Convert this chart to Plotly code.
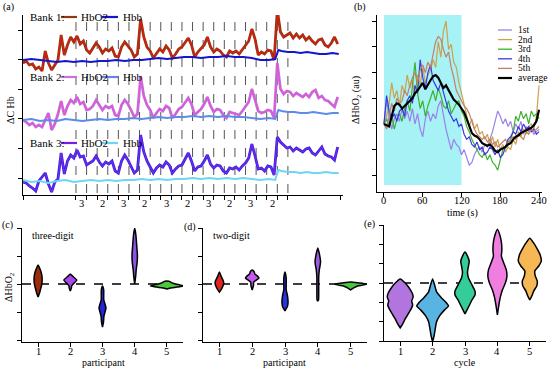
import plotly.graph_objects as go

W, H = 550, 369
FONT = "Liberation Serif, Times New Roman, serif"

# ---------------- Panel (a) data ----------------
T_A = list(range(0, 300, 3))  # sampling times (a.u.), 100 samples
BANK1_HBO2 = [-4, -2, -6, -5, -10, -8, -12, 8, -4, -11, -6, -1, 24, 4, 14, 22, 17, 23, 15, 18,
              9, 6, 11, 16, 12, 6, 10, 8, 11, 3, 2, 12, 17, 13, 9, 2, 5, 40, 22, 12,
              8, 1, 6, 10, 7, 13, 9, 1, 5, 10, 12, 16, 21, 14, 2, 7, 10, 14, 22, 12,
              7, 10, 8, 4, 2, 8, 6, 8, 5, 9, 13, 18, 30, 20, 4, 7, 5, 9, 8, -1,
              49, 27, 22, 24, 26, 21, 25, 21, 24, 19, 22, 18, 15, 19, 20, 14, 12, 16, 22, 15]
BANK2_HBO2 = [-2, -4, -7, -5, -9, -7, -9, -1, 5, -12, -6, 4, 17, 3, 12, 18, 15, 21, 14, 16,
              8, 9, 12, 18, 13, 8, 12, 10, 12, 3, 2, 13, 18, 14, 8, 1, 4, 42, 22, 13,
              8, 0, 5, 9, 7, 12, 10, 0, 4, 9, 11, 15, 20, 14, 3, 6, 9, 14, 21, 12,
              6, 9, 8, 3, 0, 6, 5, 4, 3, 7, 12, 16, 29, 18, 7, 5, 6, 8, 7, 0,
              55, 29, 24, 27, 26, 22, 25, 23, 21, 24, 21, 26, 28, 20, 22, 18, 17, 14, 11, 21]
BANK3_HBO2 = [-4, -5, -8, -10, -13, -3, 1, 5, -6, -14, -4, -1, 25, 4, 17, 23, 20, 28, 21, 22,
              13, 15, 17, 22, 16, 12, 16, 14, 17, 7, 5, 17, 23, 18, 12, 5, 8, 43, 26, 17,
              11, 5, 10, 13, 11, 16, 13, 5, 9, 12, 13, 19, 25, 17, 7, 11, 12, 17, 23, 14,
              10, 13, 12, 7, 5, 10, 9, 11, 8, 12, 15, 20, 34, 22, 9, 10, 7, 12, 11, 3,
              41, 36, 33, 30, 31, 27, 30, 28, 26, 29, 30, 25, 23, 27, 31, 24, 22, 21, 18, 31]

T_HBB = [0, 8, 16, 24, 32, 40, 48, 56, 64, 72, 80, 88, 96, 104, 112, 120, 128, 136, 144, 152,
         160, 168, 176, 184, 192, 200, 208, 216, 224, 232, 238, 241, 244, 250, 256, 262, 268,
         274, 280, 286, 292, 298]
BANK1_HBB = [-1, 0, -1, -2, -3, -2, -3, -2, -3, -2, -2, -1, -2, -1, -1, 0, 1, 0, 1, 2,
             2, 1, 2, 2, 3, 2, 2, 1, -1, -1, 0, 9, 8, 7, 7, 6, 7, 6, 5, 5, 6, 5]
BANK2_HBB = [-2, -1, -3, -2, -3, -1, -2, -3, -2, -1, -2, -1, -1, 0, -1, 0, 1, 0, 1, 1,
             2, 1, 2, 1, 2, 1, 1, 0, -1, 0, -1, 8, 7, 6, 6, 5, 5, 6, 5, 4, 5, 5]
BANK3_HBB = [-2, -4, -3, -5, -3, -2, -4, -3, -2, -3, -2, -3, -2, -2, -1, -2, -1, -2, -1, -1,
             0, -1, 0, -1, 0, -1, 0, -1, -2, -1, -2, 8, 7, 6, 6, 5, 6, 5, 5, 6, 5, 5]
BANK_OFFSETS = [119, 60, 0]
A_TICKS = [0, 50, 60, 70, 80, 90, 100, 110, 120, 130, 140, 150, 160, 170, 180, 190, 200,
           210, 220, 230, 240, 250, 300]
TASK_LINES = [50, 60, 70, 80, 90, 100, 110, 120, 130, 140, 150, 160, 170, 180, 190, 200,
              210, 220, 230, 240, 250]
TASK_LABEL_POS = [55, 75, 95, 115, 135, 155, 175, 195, 215, 235]
TASK_LABELS = ["3", "2", "3", "2", "3", "2", "3", "2", "3", "2"]

# ---------------- Panel (b) data ----------------
T_B = list(range(0, 244, 4))  # time (s)
CYC1 = [0.0, 0.9, 0.3, -0.2, 0.2, 0.4, 0.1, 0.6, 0.2, 0.5, 0.1, 0.6, 0.0, 0.4, -0.2, -0.5,
        0.2, 0.5, 0.1, 0.4, 0.2, 0.7, 0.9, 0.3, -0.2, -0.6, -1.0, -0.6, -0.8, -0.9, -1.2,
        -1.0, -1.3, -1.6, -1.5, -1.2, -1.0, -0.9, -1.1, -0.8, -0.9, -0.6, -0.3, 0.1, 0.5,
        0.3, 0.0, 0.2, -0.1, 0.1, -0.3, 0.0, -0.2, 0.1, -0.4, -0.1, -0.3, -0.2, -0.4, -0.3, -0.2]
CYC2 = [0.0, 0.3, 0.8, 1.6, 1.0, 1.3, 0.7, 1.5, 1.2, 1.9, 1.4, 1.7, 1.1, 1.9, 1.5, 2.2,
        1.6, 1.9, 2.1, 2.5, 2.2, 3.2, 2.6, 3.6, 4.0, 2.9, 3.1, 2.4, 2.2, 1.6, 1.2,
        0.8, 0.4, -0.1, 0.2, -0.2, 0.0, -0.4, -0.3, -0.6, -0.4, -0.8, -0.5, -0.9, -0.6,
        -1.0, -0.8, -1.1, -0.9, -1.0, -0.6, -0.8, -0.3, -0.5, -0.2, -0.4, -0.1, 0.0, -0.2, 0.3, 1.5]
CYC3 = [0.0, 0.2, -0.1, 0.3, -0.2, 0.2, 0.4, 0.1, 0.6, 0.9, 0.5, 1.6, 2.4, 1.2, 0.6, 0.9,
        0.3, 0.7, 1.0, 1.3, 0.9, 1.4, 1.1, 0.7, 0.6, 0.9, 0.4, 0.6, 0.8, 0.9, 0.5,
        0.3, -0.1, -0.3, -0.6, -0.8, -1.0, -1.2, -1.3, -1.1, -1.4, -1.2, -1.5, -1.6, -1.8,
        -1.4, -1.0, -0.9, -0.7, -0.6, -0.3, 0.3, 0.1, 0.5, 0.2, 0.4, 0.0, 0.5, 0.3, 0.4, 0.2]
CYC4 = [0.0, 1.1, 0.5, 0.2, 0.4, 0.1, 0.5, 0.6, 0.3, 0.9, 1.1, 0.8, 1.5, 1.2, 2.5, 1.8,
        1.4, 2.0, 2.3, 1.7, 1.5, 1.3, 1.6, 1.2, 0.8, 0.5, 0.3, 0.1, 0.2, -0.1, 0.0,
        -0.4, -0.6, -0.5, -0.8, -0.9, -0.7, -1.0, -0.9, -1.2, -1.1, -0.9, -1.0, -1.2, -1.0,
        -1.3, -1.2, -0.9, -0.6, -0.5, -0.3, -0.4, -0.1, -0.3, 0.0, -0.2, -0.1, -0.3, -0.2, -0.4, -0.3]
CYC5 = [0.0, -0.2, 0.3, 0.8, 0.5, 1.0, 0.8, 0.9, 1.3, 1.1, 1.5, 1.8, 2.0, 1.6, 2.1, 2.3,
        2.0, 2.4, 2.2, 2.7, 3.2, 3.4, 3.3, 2.9, 2.6, 2.8, 2.2, 1.8, 1.3, 1.1, 0.9,
        0.7, 0.6, 0.4, 0.1, -0.2, -0.4, -0.5, -0.6, -0.5, -0.7, -0.6, -0.8, -0.7, -0.9,
        -0.8, -0.7, -0.6, -0.8, -0.6, -0.5, -0.6, -0.4, -0.5, -0.6, -0.3, -0.4, -0.2, -0.3, -0.2, -0.1]
AVG = [0.0, -0.05, -0.1, 0.3, 0.7, 0.8, 0.75, 0.6, 0.7, 0.8, 0.9, 1.0, 1.2, 1.3, 1.45, 1.6,
       1.35, 1.55, 1.7, 1.85, 1.9, 1.8, 1.6, 1.4, 1.5, 1.3, 1.1, 0.95, 0.85, 0.75, 0.6,
       0.45, 0.2, -0.1, -0.35, -0.45, -0.5, -0.6, -0.75, -0.8, -0.85, -0.8, -0.9, -1.05, -1.1,
       -1.0, -0.95, -0.9, -0.8, -0.75, -0.6, -0.5, -0.45, -0.35, -0.3, -0.25, -0.2, -0.15, -0.05, 0.1, 0.55]
B_NAMES = ["1st", "2nd", "3rd", "4th", "5th", "average"]
B_TICKS = [0, 60, 120, 180, 240]
TASK_WINDOW = [0, 120]

# ---------------- Violin profiles: (level, half-width) ----------------
CATS = [1, 2, 3, 4, 5]
C_LEVELS = [
    [0.68, 0.57, 0.43, 0.25, 0.07, -0.04, -0.18, -0.32, -0.46],
    [0.36, 0.29, 0.14, 0.0, -0.07, -0.14, -0.25],
    [-0.07, -0.21, -0.57, -0.71, -0.86, -1.0, -1.14, -1.36, -1.54],
    [2.0, 1.75, 1.39, 1.04, 0.79, 0.5, 0.29, 0.0],
    [0.11, 0.07, 0.04, 0.0, -0.04, -0.07, -0.11, -0.14, -0.18],
]
C_WIDTHS = [
    [0, 0.046, 0.093, 0.124, 0.124, 0.108, 0.077, 0.046, 0],
    [0, 0.06, 0.2, 0.09, 0.04, 0.035, 0],
    [0, 0.037, 0.04, 0.077, 0.108, 0.077, 0.046, 0.031, 0],
    [0, 0.037, 0.062, 0.084, 0.077, 0.046, 0.031, 0],
    [0, 0.124, 0.155, 0.28, 0.43, 0.51, 0.31, 0.124, 0],
]
D_LEVELS = [
    [0.43, 0.29, 0.14, 0.04, -0.07, -0.18, -0.29],
    [0.5, 0.43, 0.36, 0.29, 0.21, 0.14, 0.07, -0.07, -0.21],
    [0.43, 0.21, -0.21, -0.43, -0.64, -0.79, -0.96],
    [1.29, 1.04, 0.79, 0.5, 0.25, -0.57, -0.6],
    [0.07, 0.04, 0.0, -0.04, -0.07, -0.14, -0.21],
]
D_WIDTHS = [
    [0, 0.046, 0.108, 0.132, 0.108, 0.062, 0],
    [0, 0.062, 0.077, 0.155, 0.207, 0.124, 0.046, 0.037, 0],
    [0, 0.037, 0.037, 0.077, 0.093, 0.077, 0],
    [0, 0.055, 0.084, 0.046, 0.028, 0.022, 0],
    [0, 0.246, 0.49, 0.37, 0.215, 0.092, 0],
]
E_LEVELS = [
    [0.21, 0, -0.26, -0.52, -0.72, -0.93, -1.13, -1.34, -1.6, -1.86, -2.11, -2.32],
    [0.21, -0.1, -0.46, -0.77, -1.03, -1.19, -1.39, -1.7, -2.01, -2.42, -2.73, -3.04],
    [1.6, 1.39, 1.13, 0.88, 0.57, 0.26, -0.1, -0.41, -0.62, -0.88, -1.19, -1.6],
    [2.78, 2.47, 2.11, 1.7, 1.39, 1.08, 0.67, 0.31, 0, -0.36, -0.72, -1.13, -1.65],
    [2.32, 2.06, 1.8, 1.44, 1.13, 0.88, 0.62, 0.36, 0.1, -0.15, -0.41, -0.67, -0.88],
]
E_WIDTHS = [
    [0, 0.154, 0.277, 0.369, 0.4, 0.354, 0.385, 0.338, 0.246, 0.154, 0.077, 0],
    [0, 0.062, 0.123, 0.277, 0.43, 0.49, 0.37, 0.215, 0.123, 0.077, 0.046, 0],
    [0, 0.077, 0.13, 0.108, 0.077, 0.108, 0.215, 0.308, 0.308, 0.215, 0.123, 0],
    [0, 0.077, 0.123, 0.138, 0.123, 0.185, 0.277, 0.292, 0.246, 0.154, 0.092, 0.046, 0],
    [0, 0.123, 0.215, 0.323, 0.354, 0.277, 0.154, 0.169, 0.231, 0.215, 0.123, 0.062, 0],
]
C_COLORS = ["#9C2C0C", "#A848F0", "#2424DC", "#8A52E6", "#4CC83C"]
D_COLORS = ["#E02424", "#C458F0", "#2436E0", "#9A5CE2", "#48C63E"]
E_COLORS = ["#B274DE", "#5AB4E2", "#34CC98", "#F07EE0", "#F6B855"]


def px(x):
    return x / W


def py(y):
    return 1 - y / H


fig = go.Figure()

# ----- panel (a) traces -----
hbo2_styles = [("#8B3A12", "#E01A10"), ("#B07AE0", "#F050D0"), ("#2A2AE0", "#8420EA")]
hbb_colors = ["#1515CC", "#5C8CE8", "#6ED6F2"]
for series, off, (c1, c2) in zip([BANK1_HBO2, BANK2_HBO2, BANK3_HBO2], BANK_OFFSETS, hbo2_styles):
    yy = [v + off for v in series]
    fig.add_trace(go.Scatter(x=T_A, y=yy, mode="lines", line=dict(color=c1, width=2.8),
                             xaxis="x", yaxis="y", showlegend=False, hoverinfo="skip"))
    fig.add_trace(go.Scatter(x=T_A, y=yy, mode="lines", line=dict(color=c2, width=1.2),
                             xaxis="x", yaxis="y", showlegend=False, hoverinfo="skip"))
for series, off, c in zip([BANK1_HBB, BANK2_HBB, BANK3_HBB], BANK_OFFSETS, hbb_colors):
    fig.add_trace(go.Scatter(x=T_HBB, y=[v + off for v in series], mode="lines",
                             line=dict(color=c, width=2.0), xaxis="x", yaxis="y",
                             showlegend=False, hoverinfo="skip"))

# ----- panel (b) traces -----
b_colors = ["#9B80EA", "#CCA24E", "#3CB22E", "#3A3AE0", "#C47E68", "#000000"]
for ser, c, name in zip([CYC1, CYC2, CYC3, CYC4, CYC5, AVG], b_colors, B_NAMES):
    fig.add_trace(go.Scatter(x=T_B, y=ser, mode="lines",
                             line=dict(color=c, width=2.2 if name == "average" else 1.2),
                             xaxis="x2", yaxis="y2", showlegend=False, hoverinfo="skip"))


# ----- violins -----
def add_violins(levels, widths, colors, xa, ya):
    for c, lv, wd, col in zip(CATS, levels, widths, colors):
        xs = [c + w for w in wd] + [c - w for w in reversed(wd)]
        ys = lv + list(reversed(lv))
        fig.add_trace(go.Scatter(x=xs, y=ys, mode="lines", fill="toself", fillcolor=col,
                                 line=dict(color="black", width=1.5, shape="spline", smoothing=0.5),
                                 xaxis=xa, yaxis=ya, showlegend=False, hoverinfo="skip"))


add_violins(C_LEVELS, C_WIDTHS, C_COLORS, "x3", "y3")
add_violins(D_LEVELS, D_WIDTHS, D_COLORS, "x4", "y4")
add_violins(E_LEVELS, E_WIDTHS, E_COLORS, "x5", "y5")

axis_common = dict(showline=True, linecolor="black", linewidth=1.3, ticks="outside", ticklen=4,
                   tickwidth=1, tickcolor="black", showgrid=False, zeroline=False,
                   showticklabels=False)

fig.update_layout(
    width=W, height=H, margin=dict(l=0, r=0, t=0, b=0),
    paper_bgcolor="white", plot_bgcolor="white", showlegend=False,
    xaxis=dict(domain=[px(23), px(343)], anchor="y", range=[0, 302], tickvals=A_TICKS, **axis_common),
    yaxis=dict(domain=[py(195), py(15)], anchor="x", range=[-17, 163],
               tickvals=[0, 30, 60, 89, 119, 148], **axis_common),
    xaxis2=dict(domain=[px(377), px(542)], anchor="y2", range=[-10.8, 244.6], tickvals=B_TICKS,
                **axis_common),
    yaxis2=dict(domain=[py(192), py(15)], anchor="x2", range=[-2.65, 4.24],
                tickvals=[-2, -1, 0, 1, 2, 3, 4], **axis_common),
    xaxis3=dict(domain=[px(22), px(183)], anchor="y3", range=[0.5, 5.5], tickvals=CATS, **axis_common),
    yaxis3=dict(domain=[py(342), py(228)], anchor="x3", range=[-2.07, 2.0],
                tickvals=[-2, -1, 0, 1, 2], **axis_common),
    xaxis4=dict(domain=[px(203), px(367)], anchor="y4", range=[0.5, 5.5], tickvals=CATS, **axis_common),
    yaxis4=dict(domain=[py(342), py(228)], anchor="x4", range=[-2.07, 2.0],
                tickvals=[-2, -1, 0, 1, 2], **axis_common),
    xaxis5=dict(domain=[px(384), px(546)], anchor="y5", range=[0.5, 5.5], tickvals=CATS, **axis_common),
    yaxis5=dict(domain=[py(341), py(225)], anchor="x5", range=[-3, 3],
                tickvals=[-3, -2, -1, 0, 1, 2, 3], **axis_common),
)

shapes = []
# task boundary dashed lines in (a)
for t in TASK_LINES:
    shapes.append(dict(type="line", xref="x", yref="paper", x0=t, x1=t, y0=py(193), y1=py(13),
                       line=dict(color="#555555", width=1, dash="dash"), layer="below"))
# task window in (b)
shapes.append(dict(type="rect", xref="x2", yref="paper", x0=TASK_WINDOW[0], x1=TASK_WINDOW[1],
                   y0=py(185), y1=py(15), fillcolor="#A6F2F5", line=dict(width=0), layer="below"))
# zero lines in c, d, e
for xa, ya in [("x3", "y3"), ("x4", "y4"), ("x5", "y5")]:
    shapes.append(dict(type="line", xref=xa + " domain", yref=ya, x0=0, x1=1, y0=0, y1=0,
                       line=dict(color="black", width=1.6, dash="dash"), layer="below"))

ann = []


def text(x, y, s, size=10, xanchor="center", yanchor="middle", angle=0):
    ann.append(dict(x=px(x), y=py(y), xref="paper", yref="paper", text=s, showarrow=False,
                    xanchor=xanchor, yanchor=yanchor, textangle=angle,
                    font=dict(family=FONT, size=size, color="black")))


def xlabel(xref, xv, y, s, size=10.5):
    ann.append(dict(x=xv, y=py(y), xref=xref, yref="paper", text=s, showarrow=False,
                    yanchor="top", font=dict(family=FONT, size=size, color="black")))


# legends of (a)
legend_a = [("Bank 1:", 17, "#8B3A12", "#1515CC"), ("Bank 2:", 77, "#D070E0", "#6A80E8"),
            ("Bank 3:", 143, "#7A1AE8", "#6ED6F2")]
for lab, yy, c1, c2 in legend_a:
    text(28, yy, lab, 11, "left")
    shapes.append(dict(type="line", xref="paper", yref="paper", x0=px(61), x1=px(77), y0=py(yy),
                       y1=py(yy), line=dict(color=c1, width=2.2)))
    text(79, yy, "HbO2", 11, "left")
    shapes.append(dict(type="line", xref="paper", yref="paper", x0=px(102), x1=px(118), y0=py(yy),
                       y1=py(yy), line=dict(color=c2, width=2.2)))
    text(121, yy, "Hbb", 11, "left")

# task labels under (a)
for t, lab in zip(TASK_LABEL_POS, TASK_LABELS):
    xlabel("x", t, 196, lab)
# tick labels of (b)
for t in B_TICKS:
    xlabel("x2", t, 193, str(t))
# tick labels of (c), (d), (e)
for c in CATS:
    xlabel("x3", c, 344, str(c), 10.5)
    xlabel("x4", c, 344, str(c), 10.5)
    xlabel("x5", c, 344, str(c), 10.5)

# legend of (b)
legend_y = [30, 39.6, 49.2, 58.8, 68.4, 78]
for name, c, yy in zip(B_NAMES, b_colors, legend_y):
    shapes.append(dict(type="line", xref="paper", yref="paper", x0=px(498), x1=px(512), y0=py(yy),
                       y1=py(yy), line=dict(color=c, width=2.2 if name == "average" else 1.3)))
    text(516, yy, name, 9.5, "left")

text(8, 7, "(a)", 10)
text(360, 7, "(b)", 10)
text(7, 225, "(c)", 10)
text(190, 227, "(d)", 10)
text(369, 224, "(e)", 10)
text(10, 110, "ΔC Hb", 10, angle=-90)
text(357, 100, "ΔHbO<sub>2</sub> (au)", 10, angle=-90)
text(462, 212.5, "time (s)", 10)
text(9, 287, "ΔHbO<sub>2</sub>", 10, angle=-90)
text(30, 235, "three-digit", 10, "left")
text(211, 235, "two-digit", 10, "left")
text(103, 362.5, "participant", 10)
text(284, 362.5, "participant", 10)
text(465, 362, "cycle", 10)

fig.update_layout(shapes=shapes, annotations=ann)
fig.write_html("out.html", config={"displayModeBar": False},
               post_script="document.body.style.margin='0px';")
